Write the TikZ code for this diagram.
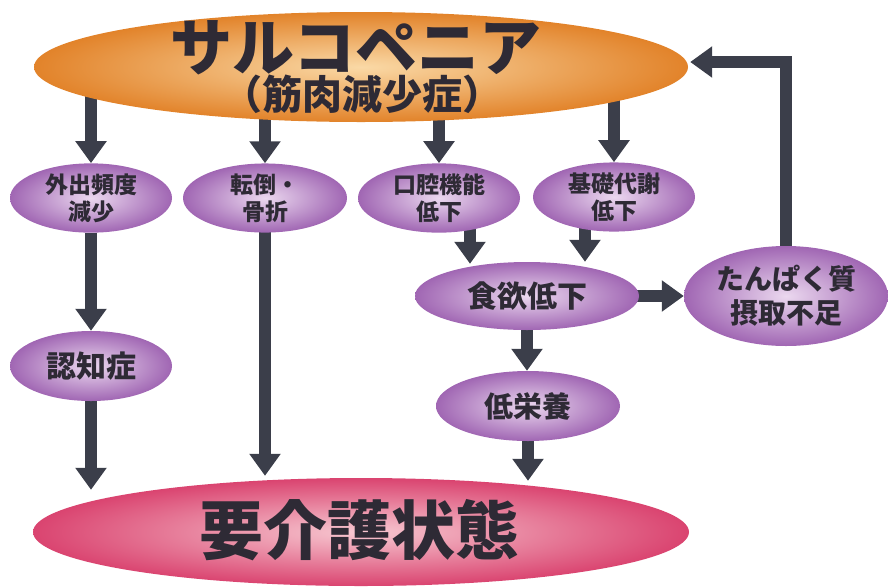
\documentclass[tikz,border=0pt]{standalone}
\usepackage{fontspec}
\newfontfamily\jp{Noto Sans CJK JP}
\usetikzlibrary{shapes.geometric,arrows.meta,backgrounds,calc}
\definecolor{arrcol}{HTML}{3B3E4A}
\definecolor{txtcol}{HTML}{2E2A35}
\definecolor{orIn}{HTML}{FAD9A6}
\definecolor{orOut}{HTML}{E2832A}
\definecolor{puIn}{HTML}{EBD8EF}
\definecolor{puOut}{HTML}{A066B3}
\definecolor{pkIn}{HTML}{F7C8D1}
\definecolor{pkOut}{HTML}{DA4470}
\begin{document}
\begin{tikzpicture}[x=1pt,y=-1pt,
  bub/.style={ellipse, inner sep=0pt, shade, inner color=puIn, outer color=puOut,
    font=\jp\bfseries\fontsize{23}{27}\selectfont, text=txtcol, align=center,
    minimum width=162pt, minimum height=68pt},
  lbl/.style={inner sep=0pt, font=\jp\bfseries, text=txtcol},
  arr/.style={draw=arrcol, line width=12pt, line join=miter,
    -{Triangle[width=30pt,length=22pt]}},
]
\useasboundingbox (0,0) rectangle (888,587);
% main ellipses
\node[ellipse, inner sep=0pt, shade, inner color=orIn, outer color=orOut,
  minimum width=654pt, minimum height=110pt] (sarco) at (361,67) {};
\node[lbl, font=\jp\bfseries\fontsize{62}{62}\selectfont, text height=51pt, text depth=3pt] (sarcoA) at (356,46) {サルコペニア};
\node[lbl, font=\jp\bfseries\fontsize{40}{40}\selectfont, text height=33pt, text depth=2pt] (sarcoB) at (362,94) {（筋肉減少症）};
\node[ellipse, inner sep=0pt, shade, inner color=pkIn, outer color=pkOut,
  minimum width=656pt, minimum height=108pt] (kaigo) at (361,532) {};
\node[lbl, font=\jp\bfseries\fontsize{64}{64}\selectfont] (kaigoT) at (359,530) {要介護状態};
% small ellipses
\node[bub] (g1) at (91,198) {外出頻度\\減少};
\node[bub, minimum width=164pt] (g2) at (265,198) {転倒・\\骨折};
\node[bub] (g3) at (439,198) {口腔機能\\低下};
\node[bub] (g4) at (614,197) {基礎代謝\\低下};
\node[bub, minimum width=224pt, font=\jp\bfseries\fontsize{30}{34}\selectfont] (shoku) at (527,296) {食欲低下};
\node[bub, minimum width=204pt, minimum height=100pt, font=\jp\bfseries\fontsize{28}{34}\selectfont] (tanp) at (786,296) {たんぱく質\\摂取不足};
\node[bub, minimum height=70pt, font=\jp\bfseries\fontsize{30}{34}\selectfont] (nin) at (91,366) {認知症};
\node[bub, minimum width=184pt, minimum height=70pt, font=\jp\bfseries\fontsize{29}{34}\selectfont] (tei) at (528,406) {低栄養};
% arrows
\begin{scope}[on background layer]
  \draw[arr] (g1 |- sarco.center) -- (g1.north);
  \draw[arr] (g2 |- sarco.center) -- (g2.north);
  \draw[arr] (g3 |- sarco.center) -- (g3.north);
  \draw[arr] (g4 |- sarco.center) -- (g4.north);
  \draw[arr] (g1.south) -- (nin.north);
  \draw[arr] (nin.south) -- ($(nin.south |- kaigo.north)+(0,12)$);
  \draw[arr] (g2.center) -- ($(g2.south |- kaigo.north)+(0,-2)$);
  \draw[arr] ([xshift=31pt]g3.center) -- ($([xshift=31pt]g3.center |- shoku.north)+(0,2)$);
  \draw[arr] ([xshift=-29pt]g4.center) -- ($([xshift=-29pt]g4.center |- shoku.north)+(0,0)$);
  \draw[arr] (shoku.center) -- (shoku.south |- tei.north);
  \draw[arr] (tei.center) -- ($(tei.south |- kaigo.north)+(0,3)$);
  \draw[arr] (shoku.center) -- (tanp.west);
  \draw[arr] (tanp.center) |- ($(sarco.east)+(2,-5)$);
\end{scope}
\end{tikzpicture}
\end{document}
